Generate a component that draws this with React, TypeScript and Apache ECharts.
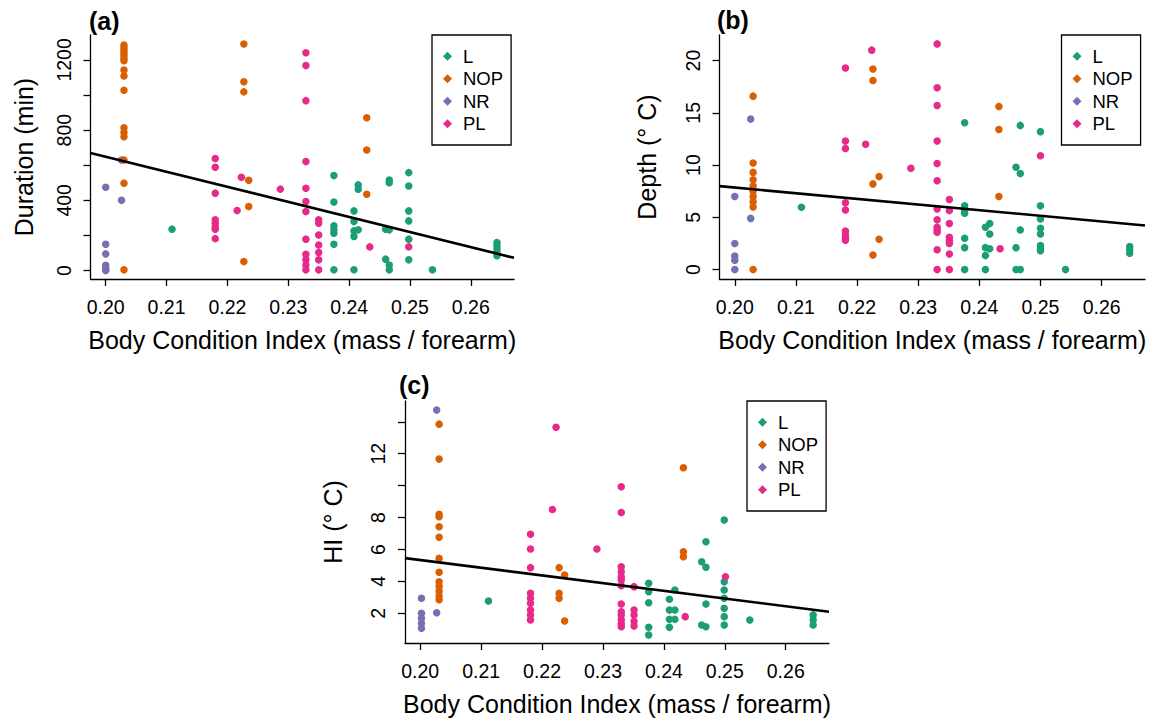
import React, { useEffect, useRef } from "react";
import * as echarts from "echarts";

// ---------- data ----------
const groups = ["L", "NOP", "NR", "PL"];
const groupColors: Record<string, string> = {
  L: "#1B9E77",
  NOP: "#D95F02",
  NR: "#7570B3",
  PL: "#E7298A",
};
const drawOrder = ["L", "NR", "NOP", "PL"];

const xTicks = [0.2, 0.21, 0.22, 0.23, 0.24, 0.25, 0.26];
const xMin = 0.1975;
const xMax = 0.2671;
const xTitle = "Body Condition Index (mass / forearm)";

// each entry: [body condition index, values observed at that index]
type Col = [number, number[]][];

// (a) Duration (min)
const durationL: Col = [
  [0.2109, [236]],
  [0.2375, [541, 390, 255, 234, 213, 150, 4]],
  [0.2408, [340, 279, 226, 194, 4]],
  [0.2415, [488, 463, 232]],
  [0.246, [236, 65]],
  [0.2466, [516, 501, 232, 32, 4]],
  [0.2498, [558, 482, 340, 283, 179, 61]],
  [0.2537, [4]],
  [0.2643, [160, 140, 120, 100, 85]],
];
const durationNOP: Col = [
  [0.203, [1285, 1270, 1255, 1240, 1225, 1210, 1195, 1143, 1108, 1027, 814, 786, 763, 630, 498, 4]],
  [0.2227, [1291, 1076, 1018, 51]],
  [0.2235, [515, 365]],
  [0.2429, [871, 687, 435]],
];
const durationNR: Col = [
  [0.2, [475, 150, 95, 30, 15, 5, 0]],
  [0.2026, [630, 400]],
];
const durationPL: Col = [
  [0.218, [638, 589, 441, 289, 270, 250, 236, 182]],
  [0.2216, [342]],
  [0.2223, [532]],
  [0.2287, [464]],
  [0.2329, [1241, 1168, 968, 621, 469, 393, 336, 179, 93, 61, 32, 4]],
  [0.235, [289, 270, 203, 146, 103, 61, 4]],
  [0.2434, [135]],
  [0.2498, [135]],
];

// (b) Depth (° C)
const depthL: Col = [
  [0.2109, [5.97]],
  [0.2376, [14.05, 6.1, 5.7, 5.4, 3.0, 2.1, 0]],
  [0.241, [4.05, 2.1, 1.34, 0]],
  [0.2417, [4.4, 3.4, 2.0]],
  [0.246, [9.8, 2.1, 0]],
  [0.2467, [13.8, 9.2, 3.8, 0]],
  [0.25, [13.2, 6.1, 4.85, 3.96, 3.4, 2.3, 2.0, 1.8]],
  [0.2541, [0]],
  [0.2646, [2.2, 1.9, 1.56]],
];
const depthNOP: Col = [
  [0.203, [16.6, 10.2, 9.3, 8.6, 8.0, 7.5, 7.0, 6.5, 6.0, 0]],
  [0.2226, [19.2, 18.1, 8.2, 1.4]],
  [0.2236, [8.9, 2.9]],
  [0.2432, [15.6, 13.4, 7.0]],
];
const depthNR: Col = [
  [0.2, [7.0, 2.5, 1.3, 0.9, 0]],
  [0.2026, [14.4, 4.9]],
];
const depthPL: Col = [
  [0.2181, [19.3, 12.3, 11.6, 6.4, 5.7, 3.7, 3.3, 3.0, 2.8]],
  [0.2214, [12.0]],
  [0.2224, [21.0]],
  [0.2288, [9.7]],
  [0.2331, [21.6, 17.4, 15.7, 12.3, 10.15, 8.5, 5.8, 4.76, 4.05, 3.8, 3.57, 1.9, 0]],
  [0.2351, [6.7, 5.65, 4.4, 3.1, 2.8, 2.5, 1.5, 0]],
  [0.2434, [2.0]],
  [0.25, [10.9]],
];

// (c) HI (° C)
const hiL: Col = [
  [0.2112, [2.77]],
  [0.2375, [3.88, 3.35, 2.66, 1.12, 0.64]],
  [0.2409, [2.88, 2.2, 1.62, 1.12]],
  [0.2418, [3.46, 2.2, 1.62]],
  [0.2462, [5.23, 1.27]],
  [0.2469, [6.48, 4.88, 2.58, 1.16]],
  [0.2499, [7.84, 3.98, 3.46, 2.94, 2.31, 1.79, 1.27]],
  [0.2541, [1.58]],
  [0.2645, [1.9, 1.6, 1.27]],
];
const hiNOP: Col = [
  [0.2031, [13.85, 11.66, 8.2, 8.05, 7.42, 6.76, 5.44, 4.57, 3.98, 3.7, 3.4, 3.1, 2.85]],
  [0.2228, [4.86, 3.25, 2.94]],
  [0.2237, [4.4, 1.52]],
  [0.2432, [11.12, 5.86, 5.54]],
];
const hiNR: Col = [
  [0.2002, [2.94, 2.0, 1.69, 1.37, 1.06]],
  [0.2027, [14.73, 2.04]],
];
const hiPL: Col = [
  [0.2181, [6.95, 6.03, 4.86, 3.25, 2.94, 2.63, 2.2, 1.9, 1.58]],
  [0.2217, [8.5]],
  [0.2223, [13.66]],
  [0.229, [6.03]],
  [0.233, [9.93, 8.32, 4.92, 4.6, 4.29, 4.09, 3.73, 2.58, 2.1, 1.9, 1.6, 1.35, 1.16]],
  [0.2351, [3.67, 2.2, 1.9, 1.5, 1.2]],
  [0.2435, [1.79]],
  [0.2501, [4.29]],
];

// fitted regression lines: [intercept, slope]
const durationFit = [2365.1, -8583];
const depthFit = [18.65, -54];
const hiFit = [14.985, -48.25];

const durationTicks = [0, 200, 400, 600, 800, 1000, 1200];
const durationLabels = [0, 400, 800, 1200];
const depthTicks = [0, 5, 10, 15, 20];
const depthLabels = [0, 5, 10, 15, 20];
const hiTicks = [2, 4, 6, 8, 10, 12, 14];
const hiLabels = [2, 4, 6, 8, 12];

// ---------- layout ----------
const FONT = "'Liberation Sans', Arial, Helvetica, sans-serif";

const panels = [
  {
    tag: "(a)",
    yName: "Duration (min)",
    yMin: -48,
    yMax: 1342,
    yTicks: durationTicks,
    yLabels: durationLabels,
    fit: durationFit,
    data: { L: durationL, NOP: durationNOP, NR: durationNR, PL: durationPL } as Record<string, Col>,
    grid: { left: 90.5, top: 35, width: 423.5, height: 244 },
    tagPos: { left: 89, top: 8 },
    legendPos: { left: 432, top: 35 },
    yNameGap: 54,
  },
  {
    tag: "(b)",
    yName: "Depth (° C)",
    yMin: -0.9,
    yMax: 22.45,
    yTicks: depthTicks,
    yLabels: depthLabels,
    fit: depthFit,
    data: { L: depthL, NOP: depthNOP, NR: depthNR, PL: depthPL } as Record<string, Col>,
    grid: { left: 719.5, top: 35, width: 425.5, height: 244 },
    tagPos: { left: 717, top: 7 },
    legendPos: { left: 1061.5, top: 35 },
    yNameGap: 60,
  },
  {
    tag: "(c)",
    yName: "HI (° C)",
    yMin: 0.14,
    yMax: 15.3,
    yTicks: hiTicks,
    yLabels: hiLabels,
    fit: hiFit,
    data: { L: hiL, NOP: hiNOP, NR: hiNR, PL: hiPL } as Record<string, Col>,
    grid: { left: 405, top: 401, width: 424, height: 242 },
    tagPos: { left: 399, top: 372 },
    legendPos: { left: 747, top: 401 },
    yNameGap: 60,
  },
];

function flatten(col: Col): number[][] {
  const out: number[][] = [];
  col.forEach(([x, ys]) => ys.forEach((y) => out.push([x, y])));
  return out;
}

function buildOption() {
  const grid: any[] = [];
  const xAxis: any[] = [];
  const yAxis: any[] = [];
  const series: any[] = [];
  const title: any[] = [];
  const legend: any[] = [];

  panels.forEach((p, i) => {
    grid.push({ ...p.grid, containLabel: false });
    xAxis.push({
      type: "value",
      gridIndex: i,
      min: xMin,
      max: xMax,
      name: xTitle,
      nameLocation: "middle",
      nameGap: 48,
      nameTextStyle: { fontSize: 25, color: "#000", fontFamily: FONT },
      axisLine: { show: true, onZero: false, lineStyle: { color: "#000", width: 1.3 } },
      axisTick: { show: true, length: 7, customValues: xTicks, lineStyle: { color: "#000", width: 1.3 } },
      axisLabel: {
        customValues: xTicks,
        formatter: (v: number) => v.toFixed(2),
        fontSize: 19.5,
        color: "#000",
        fontFamily: FONT,
        margin: 18,
      },
      splitLine: { show: false },
    });
    yAxis.push({
      type: "value",
      gridIndex: i,
      min: p.yMin,
      max: p.yMax,
      name: p.yName,
      nameLocation: "middle",
      nameRotate: 90,
      nameGap: p.yNameGap,
      nameTextStyle: { fontSize: 25, color: "#000", fontFamily: FONT },
      axisLine: { show: true, onZero: false, lineStyle: { color: "#000", width: 1.3 } },
      axisTick: { show: true, length: 7, customValues: p.yTicks, lineStyle: { color: "#000", width: 1.3 } },
      axisLabel: {
        customValues: p.yLabels,
        formatter: (v: number) => String(v),
        rotate: 90,
        fontSize: 19.5,
        color: "#000",
        fontFamily: FONT,
        margin: 17,
      },
      splitLine: { show: false },
    });
    drawOrder.forEach((g) => {
      series.push({
        type: "scatter",
        name: g,
        xAxisIndex: i,
        yAxisIndex: i,
        symbol: "circle",
        symbolSize: 7.5,
        itemStyle: { color: groupColors[g], opacity: 1 },
        data: flatten(p.data[g]),
        z: 2,
      });
    });
    const [b0, b1] = p.fit;
    series.push({
      type: "line",
      name: "fit " + p.tag,
      xAxisIndex: i,
      yAxisIndex: i,
      showSymbol: false,
      symbol: "none",
      lineStyle: { color: "#000", width: 2.6 },
      data: [
        [xMin, b0 + b1 * xMin],
        [xMax, b0 + b1 * xMax],
      ],
      z: 3,
    });
    title.push({
      text: p.tag,
      left: p.tagPos.left,
      top: p.tagPos.top,
      padding: 0,
      textStyle: { fontSize: 25, fontWeight: "bold", color: "#000", fontFamily: FONT },
    });
    legend.push({
      left: p.legendPos.left,
      top: p.legendPos.top,
      orient: "vertical",
      data: groups.map((g) => ({ name: g, icon: "diamond" })),
      itemWidth: 9,
      itemHeight: 9,
      itemGap: 0,
      selectedMode: false,
      borderColor: "#000",
      borderWidth: 1.3,
      padding: [10, 8, 10, 11],
      textStyle: {
        fontSize: 18.5,
        lineHeight: 22.5,
        color: "#000",
        fontFamily: FONT,
        padding: [0, 0, 0, 6],
      },
    });
  });

  return {
    animation: false,
    backgroundColor: "#fff",
    textStyle: { fontFamily: FONT },
    title,
    legend,
    grid,
    xAxis,
    yAxis,
    series,
  };
}

export default function App() {
  const ref = useRef<HTMLDivElement>(null);
  useEffect(() => {
    if (!ref.current) return;
    const chart = echarts.init(ref.current, undefined, { renderer: "svg" });
    chart.setOption(buildOption() as any);
    return () => chart.dispose();
  }, []);
  return (
    <div
      ref={ref}
      style={{ position: "fixed", left: 0, top: 0, width: 1163, height: 723, background: "#fff" }}
    />
  );
}
